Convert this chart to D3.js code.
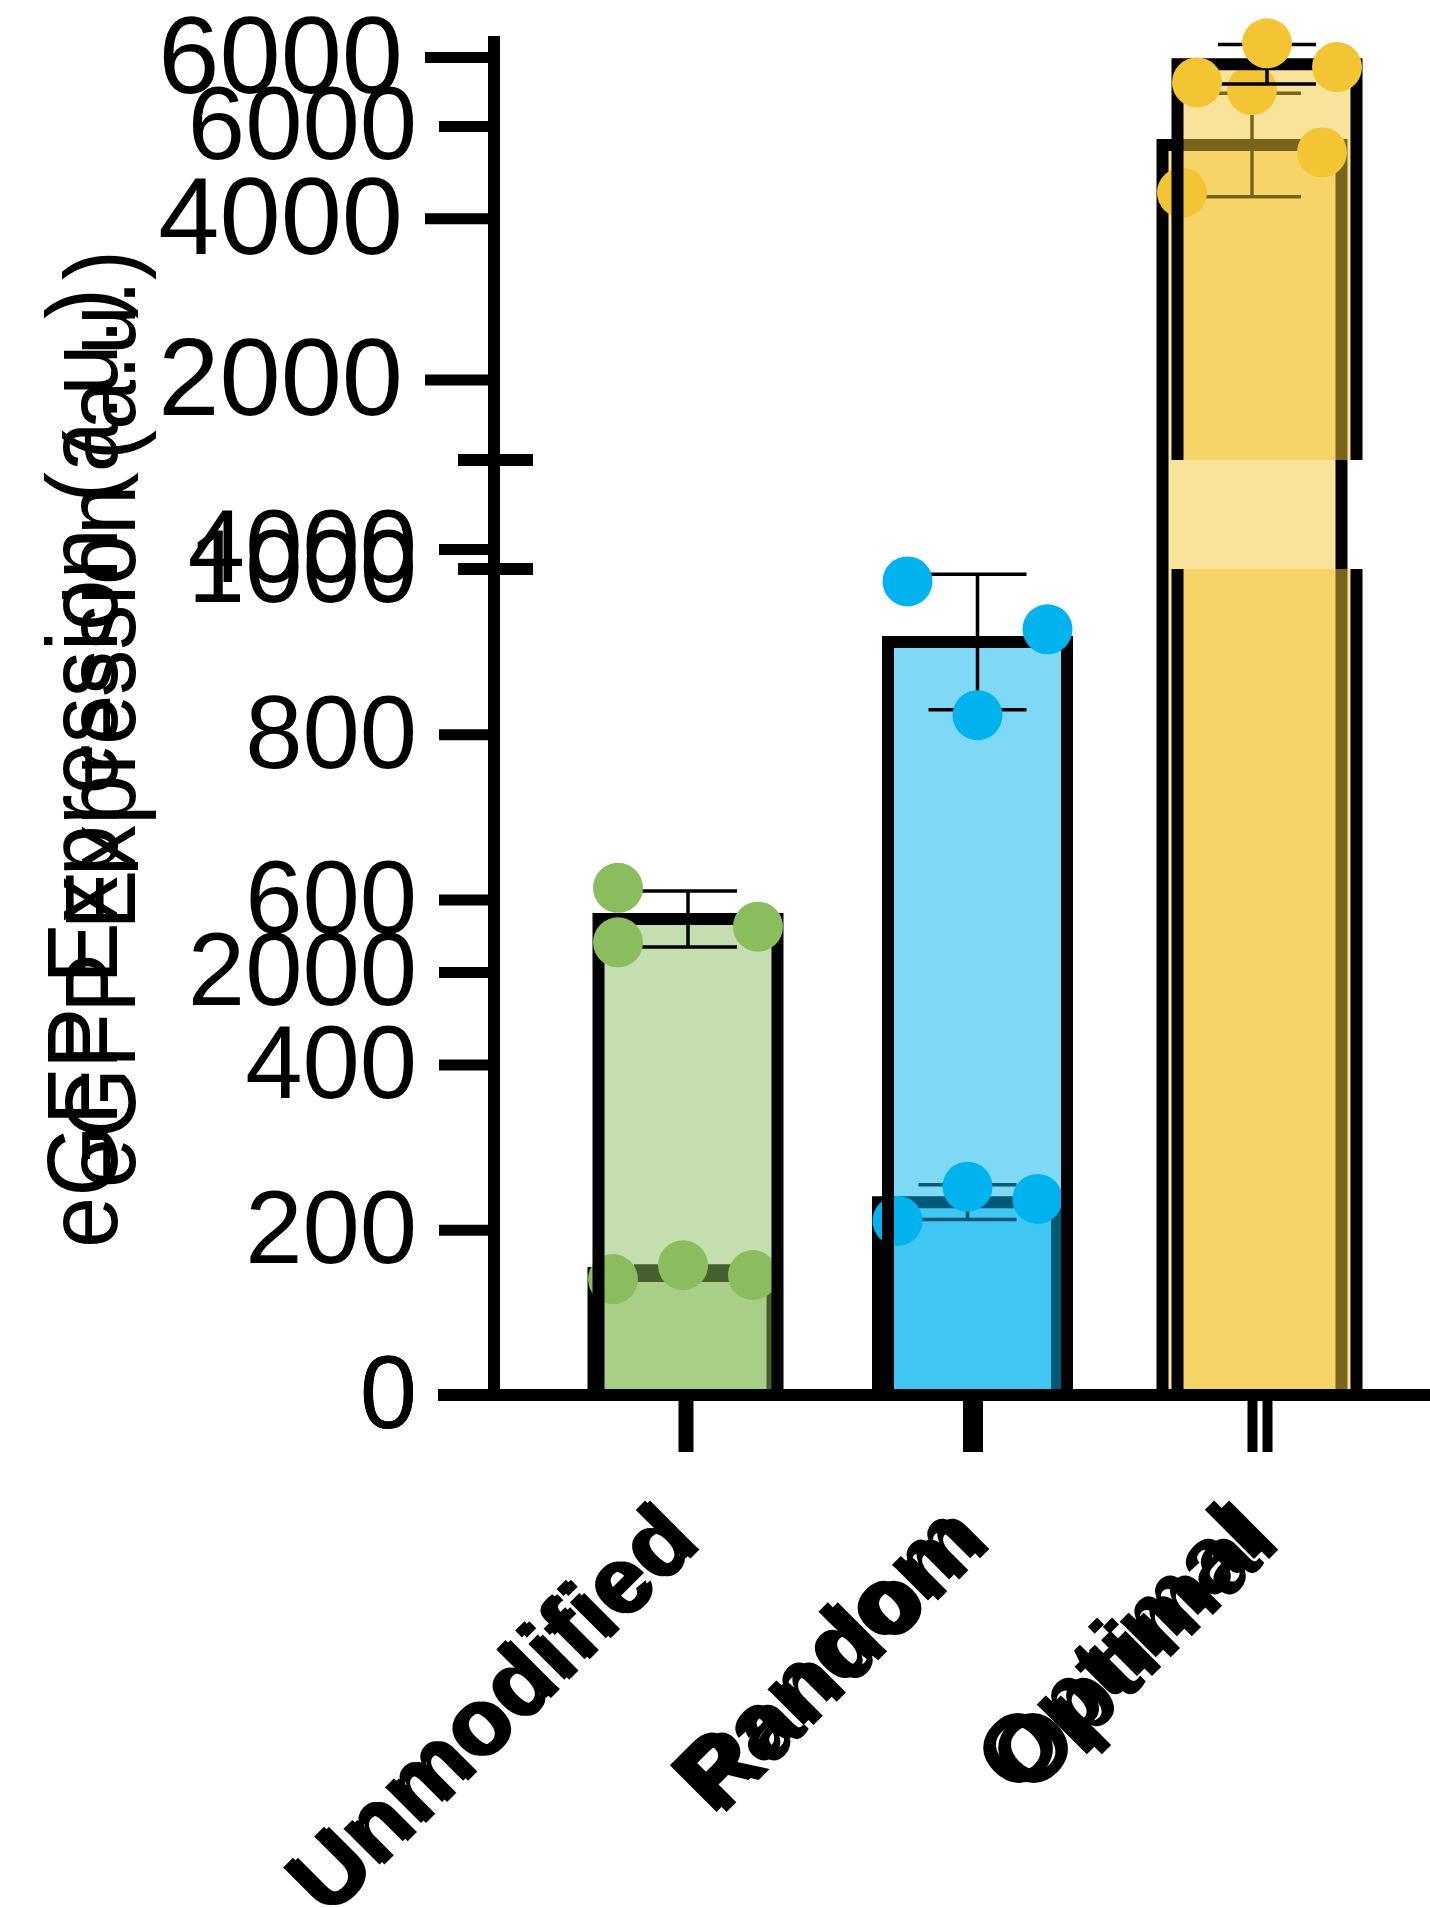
<!DOCTYPE html>
<html>
<head>
<meta charset="utf-8">
<script src="https://cdn.jsdelivr.net/npm/d3@7"></script>
<style>
  html, body { margin: 0; padding: 0; background: #ffffff; }
  svg { display: block; }
  text { font-family: "Liberation Sans", Arial, Helvetica, sans-serif; fill: #000; }
</style>
</head>
<body>
<svg id="chart" width="1430" height="1907"></svg>
<script>
// ---------------- data ----------------
const categories = ["Unmodified", "Random", "Optimal"];
const unmodifiedValues = [614, 567, 548];
const randomValues = [985, 927, 823];
const optimalValues = [6170, 5875, 5685];
const lowerTicks = [0, 200, 400, 600, 800, 1000];   // broken axis, lower segment
const upperTicks = [2000, 4000, 6000];              // broken axis, upper segment
const linearTicks = [0, 2000, 4000, 6000];          // linear axis
const yTitle = "eGFP Expression (a.u.)";
const seriesColors = ["#8bbd5f", "#00b3ee", "#f3c535"];

const groups = [unmodifiedValues, randomValues, optimalValues];

// ---------------- layout ----------------
const W = 1430, H = 1907;
const axisX = 494, baseY = 1395;
const barW = 179, stroke = 12, capHalf = 49, dotR = 25;
// scatter offsets for each replicate (layout only)
const jitterA = [[-70, 70, -70], [-70, 70, 0], [0, 70, -70]];
const jitterB = [[0, 70, -70], [0, 70, -70], [0, 70, -70]];

const svg = d3.select("#chart");

// x scales (two overlaid copies of the chart, slightly offset)
const xA = d3.scalePoint().domain(categories).range([688, 1267]);
const xB = d3.scalePoint().domain(categories).range([683, 1252]);

// y scales
const yLin = d3.scaleLinear().domain([0, 6000]).range([baseY, 126]);
const yLow = d3.scaleLinear().domain([0, 1000]).range([baseY, 569]);
const yUp = d3.scaleLinear().domain([1000, 6000]).range([460, 57]);
const yBroken = v => v > 1000 ? yUp(v) : yLow(v);

const stats = groups.map(g => ({ mean: d3.mean(g), sd: d3.deviation(g) }));

function drawChart(xs, yFn, jitter, broken) {
  const g = svg.append("g");
  categories.forEach((c, i) => {
    const cx = xs(c);
    const x0 = cx - barW / 2, x1 = cx + barW / 2;
    const m = stats[i].mean, sd = stats[i].sd;
    const col = seriesColors[i];
    const segs = [];
    if (broken && m > 1000) {
      g.append("rect").attr("x", x0).attr("width", barW)
        .attr("y", yLow(1000)).attr("height", baseY - yLow(1000))
        .attr("fill", col).attr("fill-opacity", 0.5);
      g.append("rect").attr("x", x0).attr("width", barW)
        .attr("y", yUp(m)).attr("height", yUp(1000) - yUp(m))
        .attr("fill", col).attr("fill-opacity", 0.5);
      segs.push(`M${x0},${baseY}V${yLow(1000)}`);
      segs.push(`M${x1},${yLow(1000)}V${baseY}`);
      segs.push(`M${x0},${yUp(1000)}V${yUp(m)}H${x1}V${yUp(1000)}`);
    } else {
      const top = yFn(m);
      g.append("rect").attr("x", x0).attr("width", barW)
        .attr("y", top).attr("height", baseY - top)
        .attr("fill", col).attr("fill-opacity", 0.5);
      segs.push(`M${x0},${baseY}V${top}H${x1}V${baseY}`);
    }
    g.append("path").attr("d", segs.join(""))
      .attr("fill", "none").attr("stroke", "#000")
      .attr("stroke-width", stroke).attr("stroke-linejoin", "miter");

    // error bar (mean ± SD)
    const yHi = yFn(m + sd), yLo = yFn(m - sd);
    g.append("path")
      .attr("d", `M${cx},${yHi}V${yLo}M${cx - capHalf},${yHi}H${cx + capHalf}M${cx - capHalf},${yLo}H${cx + capHalf}`)
      .attr("fill", "none").attr("stroke", "#000").attr("stroke-width", 3.5);

    // replicate points
    g.selectAll(null).data(groups[i]).join("circle")
      .attr("cx", (d, k) => cx + jitter[i][k])
      .attr("cy", d => yFn(d))
      .attr("r", dotR)
      .attr("fill", col);
  });
  return g;
}

// chart drawn on linear scale (underneath)
drawChart(xB, yLin, jitterB, false);
// chart drawn on broken scale (on top)
drawChart(xA, yBroken, jitterA, true);

// ---------------- axes ----------------
const axG = svg.append("g");
axG.append("line").attr("x1", axisX).attr("x2", axisX).attr("y1", 36).attr("y2", baseY + 6)
  .attr("stroke", "#000").attr("stroke-width", stroke);
axG.append("line").attr("x1", 438).attr("x2", W).attr("y1", baseY).attr("y2", baseY)
  .attr("stroke", "#000").attr("stroke-width", stroke);

function styleAxis(sel, size) {
  sel.select(".domain").remove();
  sel.selectAll(".tick line").attr("stroke", "#000").attr("stroke-width", 11);
  sel.selectAll(".tick text").attr("font-size", size).attr("fill", "#000")
    .attr("font-family", '"Liberation Sans", Arial, sans-serif');
}

// upper segment of broken axis
svg.append("g").attr("transform", `translate(${axisX},0)`)
  .call(d3.axisLeft(yUp).tickValues(upperTicks).tickFormat(d3.format("d")).tickSize(69).tickPadding(22))
  .call(styleAxis, 110);
// lower segment of broken axis
const lowG = svg.append("g").attr("transform", `translate(${axisX},0)`)
  .call(d3.axisLeft(yLow).tickValues(lowerTicks).tickFormat(d3.format("d")).tickSize(55).tickPadding(22))
  .call(styleAxis, 103);
lowG.selectAll(".tick").filter(d => d === 1000).select("line").remove();
// linear axis
svg.append("g").attr("transform", `translate(${axisX},0)`)
  .call(d3.axisLeft(yLin).tickValues(linearTicks).tickFormat(d3.format("d")).tickSize(55).tickPadding(22))
  .call(styleAxis, 103);

// axis break marks
[yUp(1000), yLow(1000)].forEach(y => {
  axG.append("line").attr("x1", 458).attr("x2", 533).attr("y1", y).attr("y2", y)
    .attr("stroke", "#000").attr("stroke-width", 12);
});

// x ticks + labels for both copies
[xA, xB].forEach(xs => {
  const g = svg.append("g").attr("transform", `translate(0,${baseY})`)
    .call(d3.axisBottom(xs).tickSize(57).tickFormat(""));
  g.select(".domain").remove();
  g.selectAll(".tick line").attr("stroke", "#000").attr("stroke-width", 10);
  svg.append("g").selectAll("text").data(categories).join("text")
    .attr("transform", d => `translate(${xs(d) + 16},1545) rotate(-45)`)
    .attr("text-anchor", "end")
    .attr("font-size", 96).attr("font-weight", "bold")
    .text(d => d);
});

// y titles (two copies)
[[117, 1248, 960], [135, 1188, 938]].forEach(([x, y, len]) => {
  svg.append("text")
    .attr("transform", `translate(${x},${y}) rotate(-90)`)
    .attr("text-anchor", "start")
    .attr("font-size", 100)
    .attr("textLength", len).attr("lengthAdjust", "spacingAndGlyphs")
    .text(yTitle);
});
</script>
</body>
</html>
